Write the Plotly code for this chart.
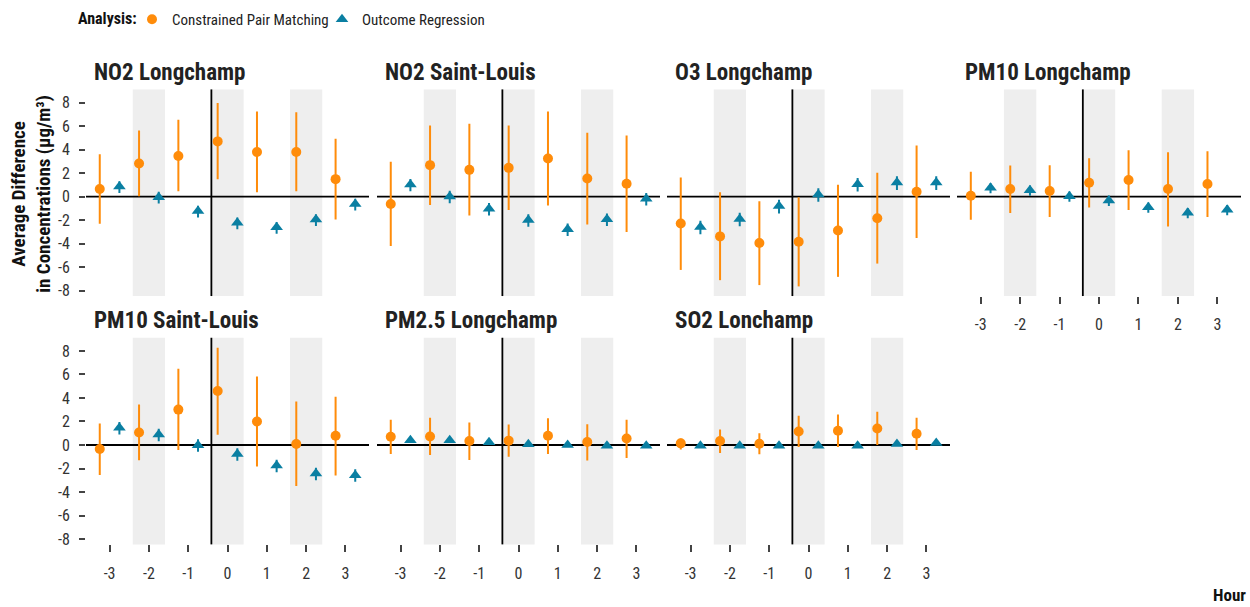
import plotly.graph_objects as go

FONT = "Roboto Condensed, Liberation Sans Narrow, Roboto, sans-serif"
ORANGE = "#FF8C0A"
BLUE = "#0A7FA2"

hours = [-3, -2, -1, 0, 1, 2, 3]
pm_x = [-3.25, -2.25, -1.25, -0.25, 0.75, 1.75, 2.75]   # Constrained Pair Matching (dodged left)
or_x = [-2.75, -1.75, -0.75, 0.25, 1.25, 2.25, 3.25]    # Outcome Regression (dodged right)
x_tick_text = ["-3", "-2", "-1", "0", "1", "2", "3"]
y_ticks = [-8, -6, -4, -2, 0, 2, 4, 6, 8]
y_tick_text = ["-8", "-6", "-4", "-2", "0", "2", "4", "6", "8"]
shaded_hours = [-2, 0, 2]

panels = ["NO2 Longchamp", "NO2 Saint-Louis", "O3 Longchamp", "PM10 Longchamp",
          "PM10 Saint-Louis", "PM2.5 Longchamp", "SO2 Lonchamp"]

# Constrained pair matching: estimate, lower, upper
pm_est = [
    [0.65, 2.82, 3.46, 4.70, 3.80, 3.80, 1.49],
    [-0.62, 2.68, 2.28, 2.45, 3.24, 1.55, 1.10],
    [-2.28, -3.38, -3.94, -3.83, -2.87, -1.83, 0.42],
    [0.08, 0.65, 0.48, 1.18, 1.41, 0.65, 1.07],
    [-0.34, 1.07, 3.01, 4.59, 2.00, 0.08, 0.79],
    [0.70, 0.73, 0.34, 0.37, 0.79, 0.25, 0.56],
    [0.14, 0.34, 0.11, 1.15, 1.21, 1.41, 0.96],
]
pm_low = [
    [-2.30, 0.03, 0.45, 1.49, 0.37, 0.45, -1.94],
    [-4.20, -0.70, -1.60, -1.13, -0.76, -2.37, -3.01],
    [-6.23, -7.10, -7.52, -7.63, -6.82, -5.69, -3.52],
    [-1.97, -1.38, -1.72, -0.93, -1.13, -2.54, -1.72],
    [-2.54, -1.30, -0.42, 0.87, -1.83, -3.49, -2.59],
    [-0.76, -0.85, -1.27, -0.99, -0.76, -1.32, -1.10],
    [-0.39, -0.68, -0.79, -0.17, -0.17, 0.00, -0.42],
]
pm_high = [
    [3.60, 5.63, 6.54, 7.97, 7.24, 7.18, 4.93],
    [2.96, 6.06, 6.20, 6.06, 7.24, 5.44, 5.21],
    [1.63, 0.37, -0.39, -0.06, 1.01, 2.03, 4.34],
    [2.11, 2.65, 2.68, 3.27, 3.94, 3.77, 3.86],
    [1.83, 3.44, 6.48, 8.28, 5.83, 3.69, 4.11],
    [2.14, 2.31, 1.92, 1.75, 2.28, 1.77, 2.14],
    [0.56, 1.32, 1.01, 2.48, 2.59, 2.82, 2.31],
]

# Outcome regression: estimate, lower, upper
or_est = [
    [0.87, -0.04, -1.22, -2.22, -2.60, -1.95, -0.62],
    [1.03, 0.02, -1.02, -1.98, -2.77, -1.92, -0.17],
    [-2.57, -1.89, -0.80, 0.19, 1.06, 1.20, 1.20],
    [0.75, 0.55, 0.04, -0.33, -0.89, -1.37, -1.11],
    [1.46, 0.89, -0.01, -0.77, -1.75, -2.43, -2.57],
    [0.40, 0.40, 0.23, 0.06, 0.00, -0.06, -0.06],
    [-0.06, -0.06, -0.06, -0.06, -0.06, 0.08, 0.17],
]
or_low = [
    [0.32, -0.59, -1.77, -2.77, -3.15, -2.50, -1.17],
    [0.45, -0.56, -1.60, -2.56, -3.35, -2.50, -0.75],
    [-3.20, -2.52, -1.43, -0.44, 0.43, 0.57, 0.57],
    [0.28, 0.08, -0.43, -0.80, -1.36, -1.84, -1.58],
    [0.90, 0.33, -0.57, -1.33, -2.31, -2.99, -3.13],
    [0.28, 0.28, 0.11, -0.06, -0.12, -0.18, -0.18],
    [-0.16, -0.16, -0.16, -0.16, -0.16, -0.02, 0.07],
]
or_high = [
    [1.32, 0.41, -0.77, -1.77, -2.15, -1.50, -0.17],
    [1.51, 0.50, -0.54, -1.50, -2.29, -1.44, 0.31],
    [-2.04, -1.36, -0.27, 0.72, 1.59, 1.73, 1.73],
    [1.15, 0.95, 0.44, 0.07, -0.49, -0.97, -0.71],
    [1.96, 1.39, 0.49, -0.27, -1.25, -1.93, -2.07],
    [0.52, 0.52, 0.35, 0.18, 0.12, 0.06, 0.06],
    [0.04, 0.04, 0.04, 0.04, 0.04, 0.18, 0.27],
]

W, H = 1250, 607
col_px = [(86, 369), (377, 660), (667, 950), (957, 1241)]
row_px = [(90, 298), (340, 548)]
cells = [(0, 0), (0, 1), (0, 2), (0, 3), (1, 0), (1, 1), (1, 2)]

fig = go.Figure()
shapes = []
annotations = []

for i, name in enumerate(panels):
    r, c = cells[i]
    n = i + 1
    xa = "x" if n == 1 else f"x{n}"
    ya = "y" if n == 1 else f"y{n}"
    x0, x1 = col_px[c]
    y0, y1 = row_px[r]
    show_x = (r == 1) or (c == 3)
    show_y = (c == 0)

    fig.update_layout({
        f"xaxis{n if n > 1 else ''}": dict(
            domain=[x0 / W, x1 / W], anchor=ya, range=[-3.6, 3.6],
            tickvals=hours, ticktext=x_tick_text, showticklabels=show_x,
            ticks="outside" if show_x else "", ticklen=7, tickwidth=1.5, tickcolor="#444",
            ticklabelstandoff=7,
            showgrid=False, zeroline=False, showline=False,
            tickfont=dict(size=16, color="#333", family=FONT), fixedrange=True),
        f"yaxis{n if n > 1 else ''}": dict(
            domain=[1 - y1 / H, 1 - y0 / H], anchor=xa, range=[-8.45, 9.12],
            tickvals=y_ticks, ticktext=y_tick_text, showticklabels=show_y,
            ticks="outside" if show_y else "", ticklen=6, tickwidth=1.5, tickcolor="#444",
            ticklabelstandoff=6,
            showgrid=False, zeroline=False, showline=False,
            tickfont=dict(size=16, color="#333", family=FONT), fixedrange=True),
    })

    for h in shaded_hours:
        shapes.append(dict(type="rect", xref=xa, yref=f"{ya} domain",
                           x0=h - 0.41, x1=h + 0.41, y0=0, y1=1,
                           fillcolor="#EEEEEE", line_width=0, layer="below"))
    shapes.append(dict(type="line", xref=f"{xa} domain", yref=ya,
                       x0=0, x1=1, y0=0, y1=0, line=dict(color="black", width=1.8), layer="below"))
    shapes.append(dict(type="line", xref=xa, yref=f"{ya} domain",
                       x0=-0.41, x1=-0.41, y0=0, y1=1, line=dict(color="black", width=1.8), layer="below"))

    annotations.append(dict(text=f"<b>{name}</b>", xref="paper", yref="paper",
                            x=(x0 + 6) / W, y=1 - (y0 - 17) / H, xanchor="left", yanchor="middle",
                            showarrow=False, font=dict(size=23, color="#222", family=FONT)))

    fig.add_trace(go.Scatter(
        x=pm_x, y=pm_est[i], xaxis=xa, yaxis=ya, mode="markers",
        name="Constrained Pair Matching", legendgroup="pm", showlegend=(i == 0),
        marker=dict(symbol="circle", size=10, color=ORANGE),
        error_y=dict(type="data", symmetric=False,
                     array=[hi - e for hi, e in zip(pm_high[i], pm_est[i])],
                     arrayminus=[e - lo for lo, e in zip(pm_low[i], pm_est[i])],
                     color=ORANGE, thickness=2, width=0)))
    fig.add_trace(go.Scatter(
        x=or_x, y=or_est[i], xaxis=xa, yaxis=ya, mode="markers",
        name="Outcome Regression", legendgroup="or", showlegend=(i == 0),
        marker=dict(symbol="triangle-up", size=11, color=BLUE),
        error_y=dict(type="data", symmetric=False,
                     array=[hi - e for hi, e in zip(or_high[i], or_est[i])],
                     arrayminus=[e - lo for lo, e in zip(or_low[i], or_est[i])],
                     color=BLUE, thickness=2, width=0)))

annotations.append(dict(text="<b>Analysis:</b>", xref="paper", yref="paper",
                        x=76 / W, y=1 - 19 / H, xanchor="left", yanchor="middle",
                        showarrow=False, font=dict(size=16, color="#111", family=FONT)))
annotations.append(dict(text="<b>Average Difference<br>in Concentrations (µg/m³)</b>",
                        xref="paper", yref="paper", x=31 / W, y=1 - 195 / H,
                        textangle=-90, showarrow=False, xanchor="center", yanchor="middle",
                        font=dict(size=19, color="#111", family=FONT)))
annotations.append(dict(text="<b>Hour</b>", xref="paper", yref="paper",
                        x=1248 / W, y=1 - 599 / H, xanchor="right", yanchor="middle",
                        showarrow=False, font=dict(size=17, color="#111", family=FONT)))

fig.update_layout(
    width=W, height=H, margin=dict(l=0, r=0, t=0, b=0),
    paper_bgcolor="white", plot_bgcolor="white",
    font=dict(family=FONT, color="#222"),
    shapes=shapes, annotations=annotations,
    legend=dict(orientation="h", x=132 / W, y=1 - 3 / H, xanchor="left", yanchor="top",
                entrywidth=145,
                font=dict(size=15, color="#222", family=FONT), bgcolor="rgba(0,0,0,0)"),
)

# the page body has a default 8px margin; drop it so the figure fills the window
fig.write_html("out.html", config={"displayModeBar": False},
               post_script="document.body.style.margin='0';")
